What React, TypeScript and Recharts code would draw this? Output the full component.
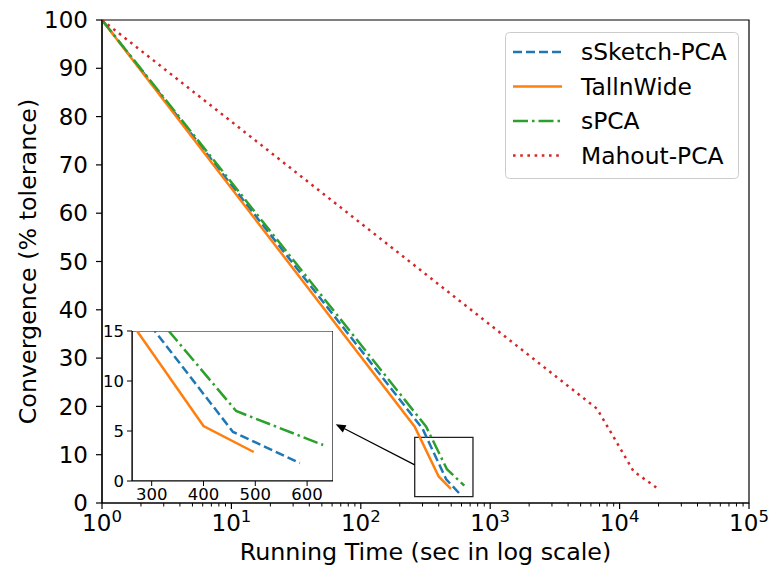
import React from "react"
import { LineChart, Line, XAxis, YAxis, Legend, ReferenceArea, ReferenceLine, Label } from "recharts"

// running time (sec) and convergence (% tolerance) per method
const SKETCH_T = [1, 300, 457, 586]
const SKETCH_V = [100, 15.4, 4.9, 1.8]
const TALL_T = [1, 261, 400, 497]
const TALL_V = [100, 15.8, 5.5, 2.9]
const SPCA_T = [1, 320, 463, 631]
const SPCA_V = [100, 15.8, 7.0, 3.6]
const MAHOUT_T = [1, 6700, 12800, 19200]
const MAHOUT_V = [100, 19.5, 6.6, 3.2]

const X_MAJOR = [1, 10, 100, 1000, 10000, 100000]
const X_MINOR = X_MAJOR.slice(0, -1).flatMap((d) => [2, 3, 4, 5, 6, 7, 8, 9].map((m) => m * d))
const Y_TICKS = [0, 10, 20, 30, 40, 50, 60, 70, 80, 90, 100]
const INSET_X_TICKS = [300, 400, 500, 600]
const INSET_Y_TICKS = [0, 5, 10, 15]

// zoom box and the arrow that points to the inset
const ZOOM_BOX = { x1: 261, x2: 736, y1: 1.3, y2: 13.6 }
const ARROW = [{ x: 261, y: 7.9 }, { x: 64, y: 16.3 }]

const FONT = "DejaVu Sans, sans-serif"

const toRows = (t: number[], v: number[]) => t.map((x, i) => ({ t: x, v: v[i] }))

const SERIES = [
  { name: "sSketch-PCA", data: toRows(SKETCH_T, SKETCH_V), color: "#1f77b4", dash: "9 4" },
  { name: "TallnWide", data: toRows(TALL_T, TALL_V), color: "#ff7f0e", dash: undefined },
  { name: "sPCA", data: toRows(SPCA_T, SPCA_V), color: "#2ca02c", dash: "15 4 2.5 4" },
  { name: "Mahout-PCA", data: toRows(MAHOUT_T, MAHOUT_V), color: "#d62728", dash: "2.6 4.6" },
]

function LogTick(props: any) {
  const { x, y, payload } = props
  const v = payload.value
  const exp = Math.round(Math.log10(v))
  const major = Math.abs(Math.pow(10, exp) - v) < 1e-6
  return (
    <g>
      <line x1={x} x2={x} y1={y} y2={y + (major ? 6 : 3.5)} stroke="#000" strokeWidth={major ? 1.2 : 1} />
      {major && (
        <text x={x} y={y + 28} textAnchor="middle" fontSize={23} fontFamily={FONT} fill="#000">
          10<tspan dy={-9} fontSize={16.5}>{exp}</tspan>
        </text>
      )}
    </g>
  )
}

function ArrowShape(props: any) {
  const { x1, y1, x2, y2 } = props
  const a = Math.atan2(y2 - y1, x2 - x1)
  const len = 10
  const w = 4
  const bx = x2 - len * Math.cos(a)
  const by = y2 - len * Math.sin(a)
  const px = -Math.sin(a) * w
  const py = Math.cos(a) * w
  return (
    <g>
      <line x1={x1} y1={y1} x2={bx} y2={by} stroke="#000" strokeWidth={1.2} />
      <polygon points={`${x2},${y2} ${bx + px},${by + py} ${bx - px},${by - py}`} fill="#000" />
    </g>
  )
}

function LegendBox() {
  return (
    <svg width={234} height={147} style={{ display: "block" }}>
      <rect x={0.5} y={0.5} width={233} height={146} rx={4} fill="#fff" fillOpacity={0.8} stroke="#ccc" />
      {SERIES.map((s, i) => (
        <g key={s.name}>
          <line x1={8} x2={57} y1={20 + i * 34.5} y2={20 + i * 34.5} stroke={s.color} strokeWidth={2.5} strokeDasharray={s.dash} />
          <text x={76} y={20 + i * 34.5} dy="0.36em" fontSize={23.4} fontFamily={FONT} fill="#000">{s.name}</text>
        </g>
      ))}
    </svg>
  )
}

function MainChart() {
  return (
    <LineChart width={773} height={573} margin={{ top: 20, right: 24, bottom: 0, left: 0 }}>
      <XAxis
        dataKey="t"
        type="number"
        scale="log"
        domain={[1, 100000]}
        ticks={[...X_MAJOR, ...X_MINOR]}
        interval={0}
        tick={<LogTick />}
        tickLine={false}
        tickSize={0}
        tickMargin={0}
        height={70}
        allowDataOverflow
        axisLine={{ stroke: "#000", strokeWidth: 1.2 }}
      >
        <Label
          content={(p: any) => (
            <text x={p.viewBox.x + p.viewBox.width / 2} y={p.viewBox.y + 48} dy="0.36em" textAnchor="middle" fontSize={23.8} fontFamily={FONT} fill="#000">
              Running Time (sec in log scale)
            </text>
          )}
        />
      </XAxis>
      <YAxis
        type="number"
        domain={[0, 100]}
        ticks={Y_TICKS}
        interval={0}
        width={102}
        tickSize={6}
        tickMargin={8}
        tick={{ fill: "#000", fontSize: 23, fontFamily: FONT }}
        tickLine={{ stroke: "#000", strokeWidth: 1.2 }}
        axisLine={{ stroke: "#000", strokeWidth: 1.2 }}
      >
        <Label
          content={(p: any) => {
            const cx = 27
            const cy = p.viewBox.y + p.viewBox.height / 2
            return (
              <text x={cx} y={cy} dy="0.36em" transform={`rotate(-90, ${cx}, ${cy})`} textAnchor="middle" fontSize={23.8} fontFamily={FONT} fill="#000">
                Convergence (% tolerance)
              </text>
            )
          }}
        />
      </YAxis>
      <ReferenceArea x1={1} x2={100000} y1={0} y2={100} fill="none" stroke="#000" strokeWidth={1.2} fillOpacity={0} />
      {SERIES.map((s) => (
        <Line
          key={s.name}
          data={s.data}
          dataKey="v"
          name={s.name}
          type="linear"
          stroke={s.color}
          strokeWidth={2.5}
          strokeDasharray={s.dash}
          dot={false}
          isAnimationActive={false}
        />
      ))}
      <ReferenceArea {...ZOOM_BOX} fill="none" fillOpacity={0} stroke="#222" strokeWidth={1.3} />
      <ReferenceLine segment={ARROW} shape={<ArrowShape />} />
      <Legend
        layout="horizontal"
        verticalAlign="middle"
        align="center"
        content={() => <LegendBox />}
        wrapperStyle={{ top: 32, left: 505, width: 234, height: 147 }}
      />
    </LineChart>
  )
}

function InsetChart() {
  return (
    <LineChart width={250} height={190} margin={{ top: 10, right: 9, bottom: 0, left: 0 }} style={{ background: "transparent" }}>
      <XAxis
        dataKey="t"
        type="number"
        domain={[262, 650]}
        ticks={INSET_X_TICKS}
        interval={0}
        height={30}
        allowDataOverflow
        tickSize={5}
        tickMargin={2}
        tick={{ fill: "#000", fontSize: 16.5, fontFamily: FONT }}
        tickLine={{ stroke: "#000" }}
        axisLine={{ stroke: "#000", strokeWidth: 1.2 }}
      />
      <YAxis
        type="number"
        domain={[0, 15]}
        ticks={INSET_Y_TICKS}
        interval={0}
        width={40}
        allowDataOverflow
        tickSize={5}
        tickMargin={3}
        tick={{ fill: "#000", fontSize: 16.5, fontFamily: FONT }}
        tickLine={{ stroke: "#000" }}
        axisLine={{ stroke: "#000", strokeWidth: 1.2 }}
      />
      <ReferenceArea x1={262} x2={650} y1={0} y2={15} fill="#fff" fillOpacity={1} stroke="#000" strokeWidth={1.2} ifOverflow="hidden" />
      {SERIES.slice(0, 3).map((s) => (
        <Line
          key={s.name}
          data={s.data}
          dataKey="v"
          name={s.name}
          type="linear"
          stroke={s.color}
          strokeWidth={2.5}
          strokeDasharray={s.dash}
          dot={false}
          isAnimationActive={false}
        />
      ))}
    </LineChart>
  )
}

export default function App() {
  return (
    <div style={{ position: "absolute", left: 0, top: 0, width: 773, height: 573, background: "#fff", fontFamily: FONT }}>
      <MainChart />
      <div style={{ position: "absolute", left: 92, top: 321 }}>
        <InsetChart />
      </div>
    </div>
  )
}
